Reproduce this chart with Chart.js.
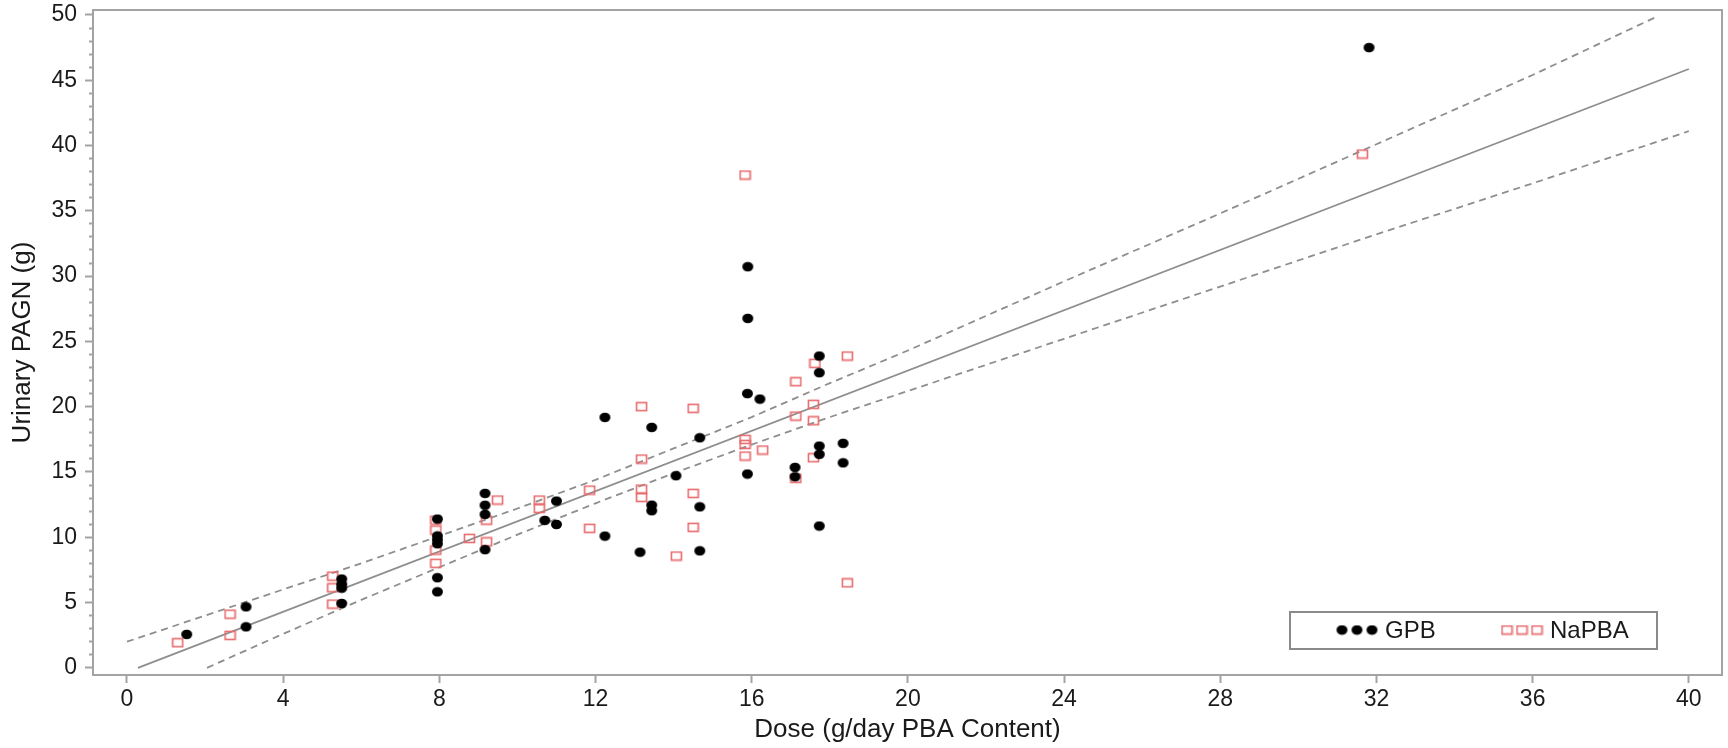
<!DOCTYPE html>
<html>
<head>
<meta charset="utf-8">
<title>Urinary PAGN vs Dose</title>
<script src="https://cdn.jsdelivr.net/npm/chart.js@4.4.1/dist/chart.umd.min.js"></script>
<style>
  html, body { margin: 0; padding: 0; background: #fff; }
  #wrap { width: 1728px; height: 748px; }
</style>
</head>
<body>
<div id="wrap"><canvas id="doseChart" width="1728" height="748"></canvas></div>
<script>
// axis ticks
const xTicks = [0, 4, 8, 12, 16, 20, 24, 28, 32, 36, 40];
const yTicks = [0, 5, 10, 15, 20, 25, 30, 35, 40, 45, 50];

// GPB subjects: dose (g/day PBA) and urinary PAGN (g)
const gpbDose = [1.53, 3.05, 3.05, 5.5, 5.5, 5.5, 5.5, 7.95, 7.95, 7.95, 7.95, 7.95, 7.95,
  9.17, 9.17, 9.17, 9.17, 10.7, 11.0, 11.0, 12.24, 12.24, 13.14, 13.44, 13.44, 13.44,
  14.06, 14.67, 14.67, 14.67, 15.9, 15.9, 15.89, 16.21, 15.89, 17.11, 17.11,
  17.73, 17.73, 17.73, 17.73, 17.73, 18.34, 18.34, 31.81];
const gpbPagn = [2.56, 4.67, 3.14, 6.8, 6.4, 6.1, 4.93, 11.39, 10.1, 9.8, 9.5, 6.9, 5.82,
  13.36, 12.45, 11.75, 9.05, 11.29, 12.77, 10.98, 19.18, 10.09, 8.86, 18.41, 12.46, 12.03,
  14.71, 17.62, 12.33, 8.96, 30.72, 26.76, 21.0, 20.58, 14.84, 15.35, 14.63,
  23.88, 22.6, 16.98, 16.35, 10.86, 17.19, 15.7, 47.5];

// NaPBA subjects
const napbaDose = [1.3, 2.64, 2.64, 5.27, 5.27, 5.27, 7.91, 7.91, 7.91, 7.91, 8.77, 9.21, 9.21, 9.49,
  10.56, 10.56, 11.85, 11.85, 13.18, 13.18, 13.18, 13.18, 14.07, 14.5, 14.5, 14.5,
  15.83, 15.83, 15.83, 15.83, 16.28, 17.13, 17.13, 17.13, 17.62, 17.58, 17.58, 17.58,
  18.45, 18.45, 31.64];
const napbaPagn = [1.92, 4.11, 2.48, 7.02, 6.13, 4.88, 11.31, 10.55, 9.02, 8.0, 9.91, 11.31, 9.65, 12.85,
  12.85, 12.21, 13.61, 10.68, 20.0, 15.99, 13.69, 13.05, 8.56, 19.87, 13.36, 10.76,
  37.74, 17.5, 17.11, 16.22, 16.68, 21.91, 19.28, 14.51, 23.32, 20.18, 18.92, 16.09,
  23.88, 6.51, 39.35];

// fitted line and its band
const fitDose = [0.28, 40];
const fitPagn = [0, 45.86];
const upperDose = [0, 2, 4, 6, 8, 10, 12, 14, 16, 18, 20, 24, 28, 32, 36, 39.2];
const upperPagn = [2.0, 4.0, 6.0, 8.0, 10.1, 12.2, 14.4, 16.8, 19.2, 21.8, 24.3, 29.6, 34.8, 40.1, 45.4, 49.9];
const lowerDose = [2.05, 4, 6, 8, 10, 12, 14, 16, 18, 20, 24, 28, 32, 36, 40];
const lowerPagn = [0, 2.6, 5.2, 7.7, 10.2, 12.6, 14.9, 17.1, 19.2, 21.2, 25.2, 29.2, 33.2, 37.1, 41.1];

const pts = (xs, ys) => xs.map((x, i) => ({ x: x, y: ys[i] }));

const FONT = "'Liberation Sans', Arial, Helvetica, sans-serif";
const AXIS_GREY = '#a3a3a3';
const LINE_GREY = '#8e8e8e';
const RED = '#e86a6c';

// marker sprites
function dotSprite() {
  const c = document.createElement('canvas');
  c.width = 13; c.height = 11;
  const g = c.getContext('2d');
  g.fillStyle = '#000';
  g.beginPath();
  g.ellipse(6.5, 5.5, 5.5, 4.8, 0, 0, Math.PI * 2);
  g.fill();
  return c;
}
function squareSprite() {
  const c = document.createElement('canvas');
  c.width = 13; c.height = 11;
  const g = c.getContext('2d');
  g.strokeStyle = RED;
  g.lineWidth = 1.6;
  g.strokeRect(1.5, 1.5, 10, 8);
  return c;
}
const dot = dotSprite();
const square = squareSprite();

// frame around the plot area plus the boxed legend
const framePlugin = {
  id: 'frame',
  afterDraw(chart) {
    const { ctx, chartArea: a } = chart;
    ctx.save();
    ctx.strokeStyle = AXIS_GREY;
    ctx.lineWidth = 2;
    ctx.strokeRect(a.left, a.top, a.right - a.left, a.bottom - a.top);

    // legend
    ctx.strokeStyle = '#8a8a8a';
    ctx.lineWidth = 2;
    ctx.strokeRect(1290, 612, 367, 37);
    const ly = 630;
    [1342, 1357, 1372].forEach(x => ctx.drawImage(dot, x - 6.5, ly - 5.5));
    [1507, 1522, 1537].forEach(x => ctx.drawImage(square, x - 6.5, ly - 5.5));
    ctx.fillStyle = '#1a1a1a';
    ctx.font = '24px ' + FONT;
    ctx.textBaseline = 'middle';
    ctx.fillText('GPB', 1385, ly + 1);
    ctx.fillText('NaPBA', 1550, ly + 1);
    ctx.restore();
  }
};

new Chart(document.getElementById('doseChart'), {
  type: 'scatter',
  data: {
    datasets: [
      { label: 'GPB', data: pts(gpbDose, gpbPagn), pointStyle: dot, pointRadius: 5, pointHoverRadius: 5 },
      { label: 'NaPBA', data: pts(napbaDose, napbaPagn), pointStyle: square, pointRadius: 5, pointHoverRadius: 5 },
      { label: 'fit', data: pts(fitDose, fitPagn), showLine: true, pointRadius: 0,
        borderColor: LINE_GREY, borderWidth: 1.8 },
      { label: 'upper', data: pts(upperDose, upperPagn), showLine: true, pointRadius: 0,
        borderColor: LINE_GREY, borderWidth: 1.8, borderDash: [7, 5] },
      { label: 'lower', data: pts(lowerDose, lowerPagn), showLine: true, pointRadius: 0,
        borderColor: LINE_GREY, borderWidth: 1.8, borderDash: [7, 5] }
    ]
  },
  options: {
    responsive: false,
    animation: false,
    layout: { padding: { top: 10, right: 5, left: 0, bottom: 0 } },
    plugins: {
      legend: { display: false },
      tooltip: { enabled: false }
    },
    scales: {
      x: {
        type: 'linear',
        min: -0.87,
        max: 40.85,
        afterBuildTicks: s => { s.ticks = xTicks.map(v => ({ value: v })); },
        afterFit: s => { s.height = 73; s.paddingLeft = 0; s.paddingRight = 0; },
        grid: { drawOnChartArea: false, tickLength: 8, tickColor: AXIS_GREY, tickWidth: 2 },
        border: { display: true, color: AXIS_GREY, width: 2 },
        ticks: { color: '#1a1a1a', padding: 3, autoSkip: false, maxRotation: 0, font: { family: FONT, size: 23 } },
        title: { display: true, text: 'Dose (g/day PBA Content)', color: '#1a1a1a',
          padding: { top: 0, bottom: 3 }, font: { family: FONT, size: 26 } }
      },
      y: {
        type: 'linear',
        min: -0.55,
        max: 50.38,
        afterBuildTicks: s => {
          const t = [];
          for (let v = yTicks[0]; v <= yTicks[yTicks.length - 1]; v++) t.push({ value: v });
          s.ticks = t;
        },
        afterFit: s => { s.width = 93; s.paddingTop = 0; s.paddingBottom = 0; },
        grid: {
          drawOnChartArea: false, tickLength: 8, tickColor: AXIS_GREY, tickWidth: 2,
          tickBorderDash: c => (yTicks.includes(c.tick && c.tick.value) ? [] : [0, 4, 4, 100])
        },
        border: { display: true, color: AXIS_GREY, width: 2 },
        ticks: {
          color: '#1a1a1a', padding: 8, autoSkip: false, font: { family: FONT, size: 23 },
          callback: v => (yTicks.includes(v) ? String(v) : '')
        },
        title: { display: true, text: 'Urinary PAGN (g)', color: '#1a1a1a',
          padding: { top: 7, bottom: 0 }, font: { family: FONT, size: 26 } }
      }
    }
  },
  plugins: [framePlugin]
});
</script>
</body>
</html>
